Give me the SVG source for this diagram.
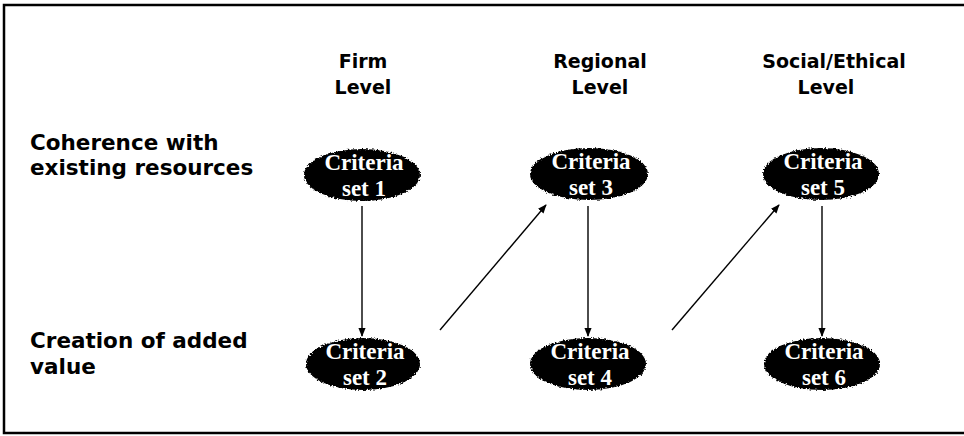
<svg xmlns="http://www.w3.org/2000/svg" width="964" height="436" viewBox="0 0 964 436">
<defs>
<style>
.hdr{font-family:"DejaVu Sans","Liberation Sans",sans-serif;font-weight:bold;font-size:19px;fill:#000;text-anchor:middle}
.row{font-family:"DejaVu Sans","Liberation Sans",sans-serif;font-weight:bold;font-size:21.5px;fill:#000}
.crit{font-family:"Liberation Serif","DejaVu Serif",serif;font-weight:bold;font-size:23px;fill:#fff;text-anchor:middle}
.node ellipse{fill:#000;filter:url(#rough)}
.conn line{stroke:#000;stroke-width:1.4;fill:none;marker-end:url(#ah)}
</style>
<filter id="rough" x="-10%" y="-20%" width="120%" height="140%">
<feTurbulence type="fractalNoise" baseFrequency="0.6" numOctaves="2" seed="3" result="n"/>
<feDisplacementMap in="SourceGraphic" in2="n" scale="4" xChannelSelector="R" yChannelSelector="G"/>
</filter>
<marker id="ah" viewBox="0 0 10 10" refX="9" refY="5" markerWidth="9" markerHeight="9" markerUnits="userSpaceOnUse" orient="auto">
<path d="M0,1 L10,5 L0,9 Z" fill="#000"/>
</marker>
</defs>
<rect width="964" height="436" fill="#fff"/>
<path d="M964,5 H4 V433 H964" fill="none" stroke="#000" stroke-width="2.5"/>
<g id="headers">
<text class="hdr" x="363" y="68">Firm</text>
<text class="hdr" x="363" y="94">Level</text>
<text class="hdr" x="600" y="68">Regional</text>
<text class="hdr" x="600" y="94">Level</text>
<text class="hdr" x="834" y="68">Social/Ethical</text>
<text class="hdr" x="826" y="94">Level</text>
</g>
<g id="rows">
<text class="row" x="30" y="150">Coherence with</text>
<text class="row" x="30" y="175">existing resources</text>
<text class="row" x="30" y="348">Creation of added</text>
<text class="row" x="30" y="374">value</text>
</g>
<g id="connectors" class="conn">
<line x1="362" y1="206" x2="362" y2="336"/>
<line x1="440" y1="330" x2="546" y2="205"/>
<line x1="588" y1="206" x2="588" y2="336"/>
<line x1="672" y1="330" x2="779" y2="205"/>
<line x1="822" y1="206" x2="822" y2="336"/>
</g>
<g id="set1" class="node"><ellipse cx="362" cy="175" rx="58" ry="26"/><text class="crit" x="364" y="170">Criteria</text><text class="crit" x="364" y="196">set 1</text></g>
<g id="set3" class="node"><ellipse cx="589" cy="174" rx="59" ry="26"/><text class="crit" x="591" y="169">Criteria</text><text class="crit" x="591" y="195">set 3</text></g>
<g id="set5" class="node"><ellipse cx="821" cy="174" rx="58" ry="26"/><text class="crit" x="823" y="169">Criteria</text><text class="crit" x="823" y="195">set 5</text></g>
<g id="set2" class="node"><ellipse cx="363" cy="364" rx="57" ry="26"/><text class="crit" x="365" y="359">Criteria</text><text class="crit" x="365" y="385">set 2</text></g>
<g id="set4" class="node"><ellipse cx="588" cy="364" rx="58" ry="26"/><text class="crit" x="590" y="359">Criteria</text><text class="crit" x="590" y="385">set 4</text></g>
<g id="set6" class="node"><ellipse cx="822" cy="364" rx="58" ry="26"/><text class="crit" x="824" y="359">Criteria</text><text class="crit" x="824" y="385">set 6</text></g>
</svg>
